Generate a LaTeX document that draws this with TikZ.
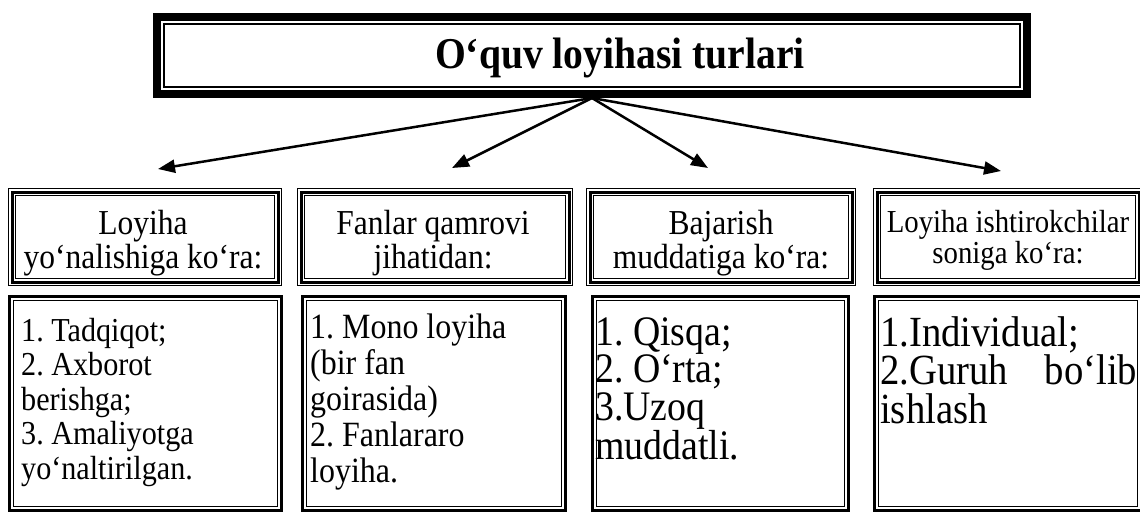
\documentclass[tikz,border=0pt]{standalone}
\usepackage{fontspec}
\setmainfont{Liberation Serif}[FakeStretch=0.9]
\usetikzlibrary{arrows.meta}
\frenchspacing
\newcommand\clines[1]{\vtop{\halign{\hfil##\hfil\cr#1\crcr}}}
\newcommand\llines[1]{\vtop{\halign{##\hfil\cr#1\crcr}}}
\newcommand\myTframe[1]{%
  \draw[line width=8pt] ([shift={(4pt,-4pt)}]#1.north west) rectangle ([shift={(-4pt,4pt)}]#1.south east);
  \draw[line width=2pt] ([shift={(11pt,-11pt)}]#1.north west) rectangle ([shift={(-11pt,11pt)}]#1.south east);}
\newcommand\myHframe[1]{%
  \draw[line width=1pt] ([shift={(0.5pt,-0.5pt)}]#1.north west) rectangle ([shift={(-0.5pt,0.5pt)}]#1.south east);
  \draw[line width=3pt] ([shift={(4pt,-4pt)}]#1.north west) rectangle ([shift={(-4pt,4pt)}]#1.south east);
  \draw[line width=1pt] ([shift={(7.5pt,-7.5pt)}]#1.north west) rectangle ([shift={(-7.5pt,7.5pt)}]#1.south east);}
\newcommand\myCframe[1]{%
  \draw[line width=3pt] ([shift={(1.5pt,-1.5pt)}]#1.north west) rectangle ([shift={(-1.5pt,1.5pt)}]#1.south east);
  \draw[line width=1.2pt] ([shift={(5.6pt,-5.6pt)}]#1.north west) rectangle ([shift={(-5.6pt,5.6pt)}]#1.south east);}
\begin{document}
\begin{tikzpicture}[x=1pt,y=-1pt,
  area/.style={draw=none,inner sep=0pt,outer sep=0pt,anchor=north west},
  hdr/.style={inner sep=0pt,anchor=base,font=\fontsize{35}{34}\selectfont},
  body/.style={inner sep=0pt,anchor=base west},
  arr/.style={line width=2.5pt,-{Triangle[length=17pt,width=13pt]}}]
\fill[white] (0,0) rectangle (1140,512);
\useasboundingbox (0,0) rectangle (1140,512);
% title
\node[area,minimum width=878pt,minimum height=85pt] (title) at (153,13) {};
\myTframe{title}
\node[inner sep=0pt,anchor=base,font=\bfseries\fontsize{44}{46}\selectfont] (ttext) at (620,68) {O‘quv loyihasi turlari};
% header boxes
\node[area,minimum width=274pt,minimum height=98pt] (h1) at (8,188) {};
\node[area,minimum width=276pt,minimum height=98pt] (h2) at (297,188) {};
\node[area,minimum width=270pt,minimum height=98pt] (h3) at (586,188) {};
\node[area,minimum width=270pt,minimum height=98pt] (h4) at (873,188) {};
\myHframe{h1}\myHframe{h2}\myHframe{h3}\myHframe{h4}
\node[hdr] (h1t) at (143,234) {\clines{Loyiha\cr yo‘nalishiga ko‘ra:}};
\node[hdr] (h2t) at (433,234) {\clines{Fanlar qamrovi\cr jihatidan:}};
\node[hdr] (h3t) at (721,234) {\clines{Bajarish\cr muddatiga ko‘ra:}};
\node[hdr,font=\fontsize{32}{31}\selectfont] (h4t) at (1008,232) {\clines{Loyiha ishtirokchilar\cr soniga ko‘ra:}};
% content boxes
\node[area,minimum width=275pt,minimum height=217pt] (c1) at (8,295) {};
\node[area,minimum width=266pt,minimum height=217pt] (c2) at (301,295) {};
\node[area,minimum width=259pt,minimum height=217pt] (c3) at (591,295) {};
\node[area,minimum width=270pt,minimum height=217pt] (c4) at (873,295) {};
\myCframe{c1}\myCframe{c2}\myCframe{c3}\myCframe{c4}
\node[body,font=\fontsize{33.5}{34.5}\selectfont] (c1t) at (21,341) {\llines{1. Tadqiqot;\cr 2. Axborot\cr berishga;\cr 3. Amaliyotga\cr yo‘naltirilgan.}};
\node[body,font=\fontsize{35.5}{36}\selectfont] (c2t) at (310,338) {\llines{1. Mono loyiha\cr (bir fan\cr goirasida)\cr 2. Fanlararo\cr loyiha.}};
\node[body,font=\fontsize{42}{37.5}\selectfont] (c3t) at (595,345) {\llines{1. Qisqa;\cr 2. O‘rta;\cr 3.Uzoq\cr muddatli.}};
\node[body,font=\fontsize{43}{38.5}\selectfont] (c4t) at (880,346) {\llines{1.Individual;\cr \hbox to 257pt{2.Guruh\hfill bo‘lib}\cr ishlash}};
% arrows
\coordinate (a1) at (158,169);
\coordinate (a2) at (452,168);
\coordinate (a3) at (708,168);
\coordinate (a4) at (1001,171);
\draw[arr] (title.south) -- (a1);
\draw[arr] (title.south) -- (a2);
\draw[arr] (title.south) -- (a3);
\draw[arr] (title.south) -- (a4);
\end{tikzpicture}
\end{document}
